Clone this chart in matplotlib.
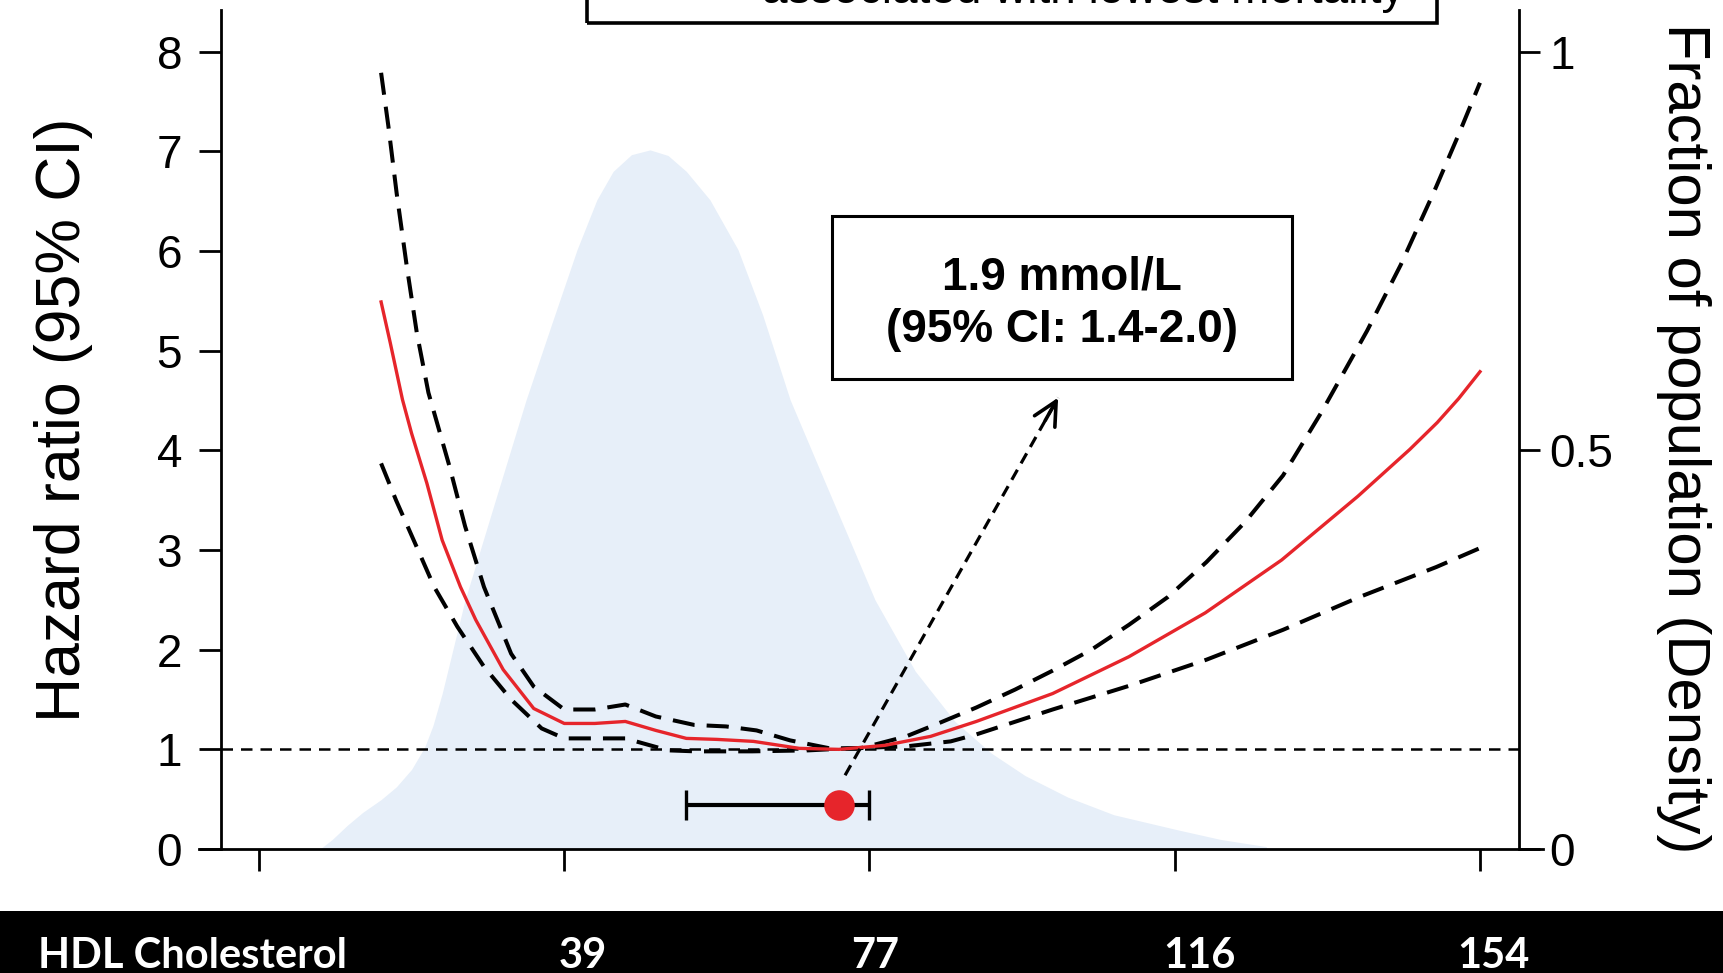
import matplotlib
matplotlib.use("Agg")
import matplotlib.pyplot as plt
from matplotlib.patches import Rectangle

plt.rcParams['font.family'] = ['Liberation Sans', 'DejaVu Sans']

# ---------------- data (x in mmol/L) ----------------
hr_x = [0.40, 0.43, 0.47, 0.50, 0.55, 0.60, 0.66, 0.71, 0.80, 0.90, 1.00, 1.10, 1.20,
        1.30, 1.40, 1.50, 1.62, 1.77, 1.90, 2.05, 2.20, 2.35, 2.60, 2.85, 3.10, 3.35,
        3.60, 3.77, 3.86, 3.93, 4.00]
hr = [5.49, 5.08, 4.51, 4.17, 3.67, 3.10, 2.63, 2.30, 1.80, 1.41, 1.26, 1.26, 1.28,
      1.19, 1.11, 1.10, 1.08, 1.01, 1.00, 1.04, 1.13, 1.28, 1.56, 1.93, 2.37, 2.90,
      3.54, 4.01, 4.28, 4.52, 4.79]

upper_x = [0.40, 0.424, 0.451, 0.484, 0.517, 0.555, 0.624, 0.675, 0.737, 0.826, 0.90,
           1.00, 1.10, 1.20, 1.30, 1.426, 1.53, 1.63, 1.74, 1.87, 1.97, 2.12, 2.225,
           2.35, 2.477, 2.60, 2.727, 2.85, 2.978, 3.104, 3.23, 3.355, 3.48, 3.63, 3.74,
           3.85, 3.93, 4.00]
upper = [7.79, 7.25, 6.58, 5.85, 5.18, 4.58, 3.84, 3.24, 2.63, 1.96, 1.63,
         1.40, 1.40, 1.45, 1.33, 1.245, 1.23, 1.19, 1.09, 1.01, 1.01, 1.13, 1.26,
         1.42, 1.60, 1.79, 2.00, 2.25, 2.53, 2.88, 3.28, 3.75, 4.38, 5.20, 5.86,
         6.60, 7.17, 7.69]

lower_x = [0.40, 0.449, 0.511, 0.574, 0.65, 0.737, 0.826, 0.926, 1.00, 1.20, 1.34,
           1.43, 1.616, 1.80, 1.93, 2.12, 2.266, 2.35, 2.60, 2.853, 3.104, 3.355,
           3.606, 3.857, 4.00]
lower = [3.87, 3.50, 3.07, 2.63, 2.23, 1.83, 1.50, 1.21, 1.11, 1.11, 0.99,
         0.98, 0.98, 0.99, 1.01, 1.03, 1.08, 1.15, 1.40, 1.64, 1.90, 2.20,
         2.53, 2.83, 3.02]

dens_x = [0.20, 0.24, 0.29, 0.34, 0.40, 0.45, 0.50, 0.543, 0.57, 0.60, 0.675, 0.77, 0.875,
          0.96, 1.042, 1.107, 1.16, 1.22, 1.281, 1.34, 1.40, 1.477, 1.569, 1.65, 1.74, 1.85,
          1.93, 2.018, 2.15, 2.28, 2.40, 2.51, 2.65, 2.80, 3.01, 3.15, 3.30]
dens = [0.0, 0.012, 0.030, 0.046, 0.062, 0.078, 0.100, 0.128, 0.155, 0.195, 0.3125, 0.432,
        0.5635, 0.66, 0.752, 0.8145, 0.850, 0.871, 0.877, 0.870, 0.850, 0.8145, 0.752, 0.67,
        0.5635, 0.464, 0.392, 0.3125, 0.223, 0.160, 0.120, 0.092, 0.065, 0.043, 0.024, 0.012,
        0.003]

optimum = 1.9
optimum_ci = [1.4, 2.0]
optimum_marker_y = 0.44
reference_hr = 1.0

x_ticks = [0, 1, 2, 3, 4]
left_ticks = [0, 1, 2, 3, 4, 5, 6, 7, 8]
right_ticks = [0, 0.5, 1]
right_ticklabels = ["0", "0.5", "1"]

band_title = "HDL Cholesterol"
band_labels = ["39", "77", "116", "154"]
box_text = "1.9 mmol/L\n(95% CI: 1.4-2.0)"
top_text = "associated with lowest mortality"
ylabel_left = "Hazard ratio (95% CI)"
ylabel_right = "Fraction of population (Density)"

# ---------------- figure layout ----------------
W, H = 1724, 973
fig = plt.figure(figsize=(W / 100, H / 100), dpi=100)

ax_l, ax_r, ax_b, ax_t = 221, 1519, 849, 10  # pixel frame
ax = fig.add_axes([ax_l / W, 1 - ax_b / H, (ax_r - ax_l) / W, (ax_b - ax_t) / H])
ax2 = ax.twinx()
ax.set_zorder(ax2.get_zorder() + 1)
ax.patch.set_visible(False)

XMIN, XMAX = -0.1245, 4.1278
YMAX = 8.42
ax.set_xlim(XMIN, XMAX)
ax.set_ylim(0, YMAX)
ax2.set_ylim(0, YMAX / 8)

red = '#e6252b'
fill_col = '#e7eff9'

# density
ax2.fill_between(dens_x, 0, dens, color=fill_col, lw=0)

# reference line
ax.axhline(reference_hr, color='black', lw=1.8, ls=(0, (4.6, 3.2)), zorder=2)

# CI and HR curves
ax.plot(upper_x, upper, color='black', lw=2.9, ls=(0, (5.5, 3.0)), zorder=3)
ax.plot(lower_x, lower, color='black', lw=2.9, ls=(0, (5.5, 3.0)), zorder=3)
ax.plot(hr_x, hr, color=red, lw=2.4, zorder=4)

# optimum with CI
ax.errorbar([optimum], [optimum_marker_y],
            xerr=[[optimum - optimum_ci[0]], [optimum_ci[1] - optimum]],
            fmt='none', ecolor='black', elinewidth=3, capsize=11, capthick=2.4, zorder=5)
ax.plot([optimum], [optimum_marker_y], 'o', color=red, ms=22, mec='none', zorder=6)

# annotation box + arrow
box_x0, box_x1, box_y0, box_y1 = 1.877, 3.385, 4.72, 6.35
ax.add_patch(Rectangle((box_x0, box_y0), box_x1 - box_x0, box_y1 - box_y0,
                       fill=False, edgecolor='black', lw=2.2, zorder=7))
ax.text((box_x0 + box_x1) / 2, (box_y0 + box_y1) / 2 - 0.06, box_text, ha='center',
        va='center', fontsize=33, fontweight='bold', linespacing=1.25, zorder=7)
arrow_start = (1.92, 0.74)
arrow_tip = (2.618, 4.53)
ax.plot([arrow_start[0], arrow_tip[0]], [arrow_start[1], arrow_tip[1]], color='black',
        lw=2.3, ls=(0, (3.6, 2.3)), zorder=6)
ax.annotate('', xy=arrow_tip,
            xytext=(arrow_tip[0] - 0.06 * (arrow_tip[0] - arrow_start[0]),
                    arrow_tip[1] - 0.06 * (arrow_tip[1] - arrow_start[1])),
            arrowprops=dict(arrowstyle='->', lw=2.6, color='black', mutation_scale=42,
                            shrinkA=0, shrinkB=0), zorder=6)

# spines and ticks
for s in ['top', 'right']:
    ax.spines[s].set_visible(False)
for s in ['top', 'left', 'bottom']:
    ax2.spines[s].set_visible(False)
ax.spines['left'].set_linewidth(2.0)
ax2.spines['right'].set_linewidth(2.0)
ax.spines['bottom'].set_linewidth(2.0)
ax.spines['bottom'].set_bounds(-0.197, 4.206)

ax.set_xticks(x_ticks)
ax.set_xticklabels([''] * len(x_ticks))
ax.set_yticks(left_ticks)
ax.set_yticklabels([str(t) for t in left_ticks])
ax2.set_yticks(right_ticks)
ax2.set_yticklabels(right_ticklabels)
ax.tick_params(axis='both', direction='out', length=16, width=2.0, labelsize=33, pad=12)
ax2.tick_params(axis='y', direction='out', length=15, width=2.0, labelsize=33, pad=7)
for lab in ax.get_yticklabels() + ax2.get_yticklabels():
    lab.set_family(['Liberation Sans', 'DejaVu Sans'])

ax.set_ylabel(ylabel_left, fontsize=45, va='center', ha='center',
              family=['Liberation Sans', 'DejaVu Sans'])
ax.yaxis.set_label_coords((64 - ax_l) / (ax_r - ax_l), (ax_b - 420) / (ax_b - ax_t))
ax2.set_ylabel(ylabel_right, fontsize=43, rotation=270, va='center', ha='center',
               family=['Liberation Sans', 'DejaVu Sans'])
ax2.yaxis.set_label_coords((1684 - ax_l) / (ax_r - ax_l), (ax_b - 438) / (ax_b - ax_t))

# top (cut-off) box
fig.add_artist(Rectangle((587 / W, 1 - 23 / H), (1437 - 587) / W, 0.2, fill=False,
                         edgecolor='black', lw=2.6, transform=fig.transFigure))
fig.text(1083 / W, 1 - 3 / H, top_text, ha='center', va='baseline', fontsize=33)

# bottom black band with labels
band_top = 911
fig.add_artist(Rectangle((0, 0), 1, (H - band_top) / H, facecolor='black', edgecolor='none',
                         transform=fig.transFigure))
band_font = ['Lato', 'DejaVu Sans']
fig.text(38 / W, (H - 968) / H, band_title, ha='left', va='baseline', color='white',
         fontsize=30, fontweight='bold', family=band_font)
band_px = [583, 875, 1199, 1493]
for lab, px in zip(band_labels, band_px):
    fig.text(px / W, (H - 968) / H, lab, ha='center', va='baseline', color='white',
             fontsize=30, fontweight='bold', family=band_font)

fig.savefig('out.png', dpi=100)
